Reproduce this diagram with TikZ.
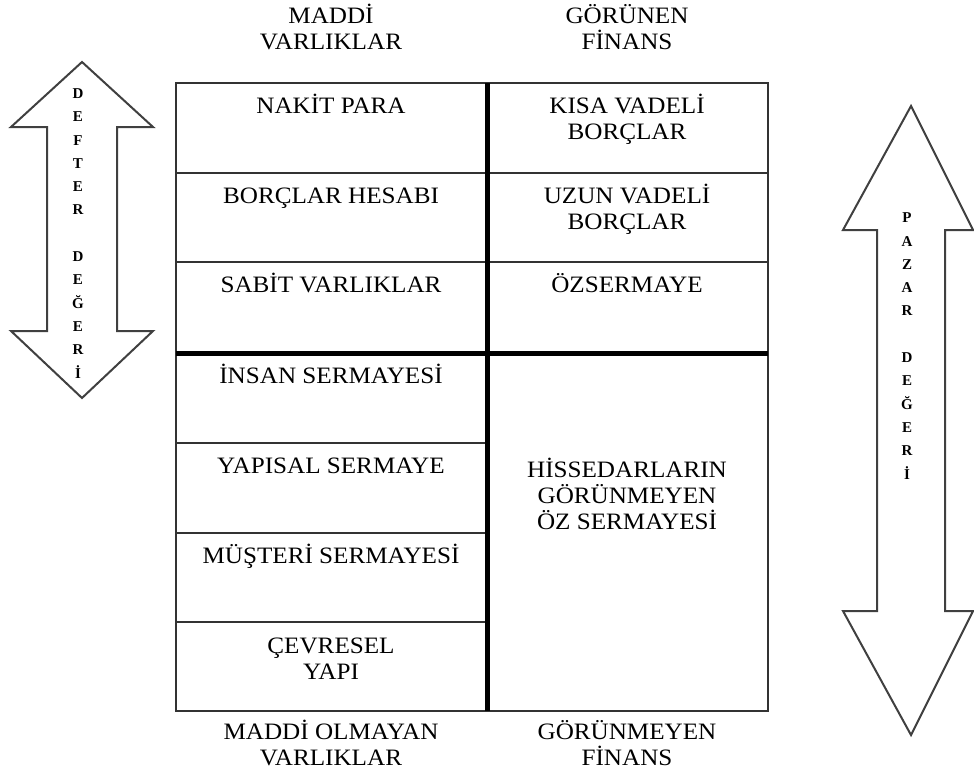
\documentclass[tikz,border=0pt]{standalone}
\usepackage{fontspec}
\setmainfont{Liberation Serif}
\newfontfamily\widefont[FakeStretch=1.07]{Liberation Serif}
\usetikzlibrary{positioning}
\tikzset{cell text/.style={align=center,anchor=base,inner sep=0pt,font=\widefont\fontsize{23.5}{26}\selectfont},
	arrow text/.style={align=center,anchor=base,inner sep=0pt,font=\bfseries\fontsize{15}{23.3}\selectfont},
	thin rule/.style={draw=black!80,line width=1.6pt},
	thick rule/.style={draw=black,line width=5pt},
	big arrow/.style={draw=black!75,line width=2pt,line join=miter,fill=white},}
\begin{document}
\begin{tikzpicture}[x=1pt,y=-1pt]
		\useasboundingbox (0,0) rectangle (974,784);
		\draw[big arrow] (82,62) -- (153,127) -- (117,127) -- (117,331) -- (153,331) -- (82,398)
		    -- (11,331) -- (47,331) -- (47,127) -- (11,127) -- cycle;
		\draw[big arrow] (911,106) -- (973,230) -- (945,230) -- (945,611) -- (973,611) -- (911,735)
		    -- (843,611) -- (877,611) -- (877,230) -- (843,230) -- cycle;
		% multi-line nodes sit on the baseline of their last line
		\node[arrow text] (defter) at (78,378) {D\\E\\F\\T\\E\\R\\~\\D\\E\\Ğ\\E\\R\\İ};
		\node[arrow text] (pazar) at (907,479) {P\\A\\Z\\A\\R\\~\\D\\E\\Ğ\\E\\R\\İ};
	
		\draw[thin rule] (176,83) rectangle (768,711);
		\draw[thin rule] (176,173) -- (768,173) (176,262) -- (768,262);
		\draw[thin rule] (176,443) -- (487,443) (176,533) -- (487,533) (176,622) -- (487,622);
		\draw[thick rule] (176,353) -- (768,353);
		\draw[thick rule] (487,83) -- (487,711);
	
		\node[cell text] (maddi) at (331,50) {MADDİ\\VARLIKLAR};
		\node[cell text] (gorunen) at (627,50) {GÖRÜNEN\\FİNANS};
		\node[cell text] (nakit) at (331,113) {NAKİT PARA};
		\node[cell text] (hesap) at (331,203) {BORÇLAR HESABI};
		\node[cell text] (sabit) at (331,292) {SABİT VARLIKLAR};
		\node[cell text] (insan) at (331,383) {İNSAN SERMAYESİ};
		\node[cell text] (yapisal) at (331,473) {YAPISAL SERMAYE};
		\node[cell text] (musteri) at (331,563) {MÜŞTERİ SERMAYESİ};
		\node[cell text] (cevre) at (331,679) {ÇEVRESEL\\YAPI};
		\node[cell text] (kisa) at (627,139) {KISA VADELİ\\BORÇLAR};
		\node[cell text] (uzun) at (627,229) {UZUN VADELİ\\BORÇLAR};
		\node[cell text] (oz) at (627,292) {ÖZSERMAYE};
		\node[cell text] (hisse) at (627,529) {HİSSEDARLARIN\\GÖRÜNMEYEN\\ÖZ SERMAYESİ};
		\node[cell text] (maddiol) at (331,765) {MADDİ OLMAYAN\\VARLIKLAR};
		\node[cell text] (gorunmeyen) at (627,765) {GÖRÜNMEYEN\\FİNANS};
	\end{tikzpicture}
\end{document}
